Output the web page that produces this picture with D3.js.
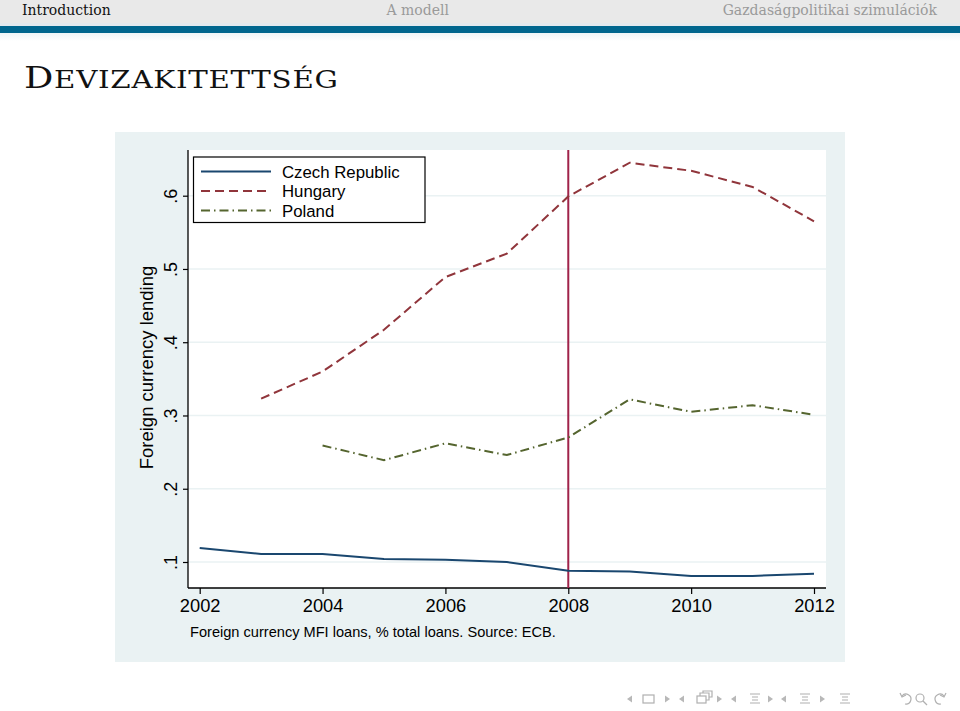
<!DOCTYPE html>
<html><head><meta charset="utf-8">
<script src="https://cdn.jsdelivr.net/npm/d3@7"></script>
<style>body{margin:0;background:#fff;}svg{display:block;}</style>
</head><body>
<svg id="c" width="960" height="711"></svg>
<script>
const years = [2002,2003,2004,2005,2006,2007,2008,2009,2010,2011,2012];
const czech   = [0.119,0.111,0.111,0.104,0.103,0.100,0.088,0.087,0.081,0.081,0.084];
const hungary = [null,0.323,0.360,0.417,0.489,0.521,0.599,0.645,0.634,0.612,0.565];
const poland  = [null,null,0.259,0.239,0.262,0.246,0.270,0.322,0.305,0.314,0.301];
const seriesNames = ["Czech Republic","Hungary","Poland"];
const yTicks = [0.1,0.2,0.3,0.4,0.5,0.6];
const yTickLabels = [".1",".2",".3",".4",".5",".6"];
const xTicks = [2002,2004,2006,2008,2010,2012];
const crisisYear = 2008;
const navItems = ["Introduction","A modell","Gazdaságpolitikai szimulációk"];

const svg = d3.select("#c");
// header
svg.append("rect").attr("x",0).attr("y",0).attr("width",960).attr("height",24).attr("fill","#e9e9e9");
svg.append("rect").attr("x",0).attr("y",23).attr("width",960).attr("height",4).attr("fill","#e3e9ee");
svg.append("rect").attr("x",0).attr("y",26).attr("width",960).attr("height",7).attr("fill","#00668e");
const defs = svg.append("defs");
const lg = defs.append("linearGradient").attr("id","hg").attr("x1",0).attr("x2",0).attr("y1",0).attr("y2",1);
lg.append("stop").attr("offset",0).attr("stop-color","#eef5f7");
lg.append("stop").attr("offset",1).attr("stop-color","#ffffff");
svg.append("rect").attr("x",0).attr("y",33).attr("width",960).attr("height",8).attr("fill","url(#hg)");
const hf = "'DejaVu Serif','Liberation Serif',serif";
svg.append("text").attr("x",22).attr("y",15).attr("font-family",hf).attr("font-size",14).attr("fill","#111").text(navItems[0]);
svg.append("text").attr("x",449).attr("y",15).attr("text-anchor","end").attr("font-family",hf).attr("font-size",14).attr("fill","#9a9a9a").text(navItems[1]);
svg.append("text").attr("x",937).attr("y",15).attr("text-anchor","end").attr("font-family",hf).attr("font-size",14).attr("fill","#9a9a9a").text(navItems[2]);
// title
const t = svg.append("text").attr("transform","translate(24,88) scale(1.22,1)").attr("font-family","'DejaVu Serif',serif").attr("fill","#111")
  .attr("letter-spacing",0.6);
t.append("tspan").attr("font-size",30).text("D");
t.append("tspan").attr("font-size",24).text("EVIZAKITETTSÉG");

// graph region
svg.append("rect").attr("x",115).attr("y",132).attr("width",730).attr("height",530).attr("fill","#eaf2f3");
const L=188, R=826, T=150, B=588;
svg.append("rect").attr("x",L).attr("y",T).attr("width",R-L).attr("height",B-T).attr("fill","#fff");

const x = d3.scaleLinear().domain([2002,2012]).range([199.7,814]);
const y = d3.scaleLinear().domain([0.1,0.6]).range([562,195.7]);

// gridlines
svg.append("g").selectAll("line").data(yTicks).join("line")
  .attr("x1",L).attr("x2",R).attr("y1",d=>y(d)).attr("y2",d=>y(d))
  .attr("stroke","#eaf2f3").attr("stroke-width",1.5);

const ff = "'Liberation Sans',Arial,sans-serif";
// y axis
const ya = svg.append("g").attr("transform",`translate(${L},0)`)
  .call(d3.axisLeft(y).tickValues(yTicks).tickFormat((d,i)=>yTickLabels[i]).tickSize(5).tickPadding(5));
ya.select(".domain").attr("d",`M0,${T}V${B}`).attr("stroke","#000").attr("stroke-width",1.3);
ya.selectAll(".tick line").attr("stroke","#000").attr("stroke-width",1.2);
ya.selectAll(".tick text").attr("font-family",ff).attr("font-size",18).attr("fill","#000")
  .each(function(d){
    d3.select(this).attr("x",null).attr("dy",null).attr("text-anchor","middle")
     .attr("transform",`translate(-11,0) rotate(-90)`).attr("y",0);
  });
// x axis
const xa = svg.append("g").attr("transform",`translate(0,${B})`)
  .call(d3.axisBottom(x).tickValues(xTicks).tickFormat(d3.format("d")).tickSize(6).tickPadding(5));
xa.select(".domain").attr("d",`M${L},0H${R}`).attr("stroke","#000").attr("stroke-width",1.3);
xa.selectAll(".tick line").attr("stroke","#000").attr("stroke-width",1.2);
xa.selectAll(".tick text").attr("font-family",ff).attr("font-size",18.3).attr("fill","#000");

// y title
svg.append("text").attr("transform",`translate(153,${(265+470)/2}) rotate(-90)`).attr("text-anchor","middle")
  .attr("font-family",ff).attr("font-size",18.5).attr("fill","#000").text("Foreign currency lending");
// caption
svg.append("text").attr("x",190).attr("y",637).attr("font-family",ff).attr("font-size",14.6).attr("fill","#000")
  .text("Foreign currency MFI loans, % total loans. Source: ECB.");

// crisis line
svg.append("line").attr("x1",x(crisisYear)).attr("x2",x(crisisYear)).attr("y1",T).attr("y2",B)
  .attr("stroke","#a0234a").attr("stroke-width",2);

const styles = [
  {name:seriesNames[0], data:czech, color:"#1a476f", dash:null},
  {name:seriesNames[1], data:hungary, color:"#90353b", dash:"9,5"},
  {name:seriesNames[2], data:poland, color:"#55652f", dash:"9,4,1.5,4"}
];
const line = d3.line().defined(d=>d[1]!=null).x(d=>x(d[0])).y(d=>y(d[1]));
styles.forEach(s=>{
  svg.append("path").datum(years.map((yr,i)=>[yr,s.data[i]])).attr("d",line)
    .attr("fill","none").attr("stroke",s.color).attr("stroke-width",2)
    .attr("stroke-dasharray",s.dash);
});

// legend
const lgG = svg.append("g");
lgG.append("rect").attr("x",193.5).attr("y",157).attr("width",231.5).attr("height",65.5)
  .attr("fill","#fff").attr("stroke","#000").attr("stroke-width",1.2);
const rowsY=[171.5,191,210.5];
styles.forEach((s,i)=>{
  lgG.append("line").attr("x1",201).attr("x2",271).attr("y1",rowsY[i]).attr("y2",rowsY[i])
    .attr("stroke",s.color).attr("stroke-width",2).attr("stroke-dasharray",s.dash);
  lgG.append("text").attr("x",282).attr("y",rowsY[i]+6).attr("font-family",ff).attr("font-size",16.8)
    .attr("fill","#000").text(s.name);
});

// bottom nav icons
const nav = svg.append("g").attr("fill","none").attr("stroke","#b0b0b0").attr("stroke-width",1.2);
const ny = 699;
function triL(cx){svg.append("path").attr("d",`M${cx+2},${ny-3.5}L${cx-3},${ny}L${cx+2},${ny+3.5}Z`).attr("fill","#b8b8b8");}
function triR(cx){svg.append("path").attr("d",`M${cx-2},${ny-3.5}L${cx+3},${ny}L${cx-2},${ny+3.5}Z`).attr("fill","#b8b8b8");}
function lines(cx){
  nav.append("path").attr("d",`M${cx-5},${ny-5}H${cx+5}M${cx-3},${ny-2}H${cx+3}M${cx-3},${ny+1}H${cx+3}M${cx-5},${ny+4}H${cx+5}`);
}
triL(630); nav.append("rect").attr("x",643).attr("y",ny-4).attr("width",11).attr("height",8); triR(667);
triL(682); nav.append("rect").attr("x",697).attr("y",ny-3).attr("width",9).attr("height",7);
nav.append("path").attr("d",`M700,${ny-3}V${ny-6}H709V${ny+1}H706`); nav.append("path").attr("d",`M703,${ny-6}V${ny-8}H712V${ny-2}H709`); triR(719);
triL(734); lines(755); triR(770);
triL(784); lines(805); triR(822);
lines(845);
nav.append("path").attr("d",`M902,${ny-3}A5,5 0 1 1 905,${ny+5}`); nav.append("path").attr("d",`M900,${ny-6}L902,${ny-2}L906,${ny-4}`);
nav.append("circle").attr("cx",920).attr("cy",ny-1).attr("r",4); nav.append("path").attr("d",`M923,${ny+2}L927,${ny+6}`);
nav.append("path").attr("d",`M944,${ny-3}A5,5 0 1 0 941,${ny+5}`); nav.append("path").attr("d",`M946,${ny-6}L944,${ny-2}L940,${ny-4}`);
</script>
</body></html>
